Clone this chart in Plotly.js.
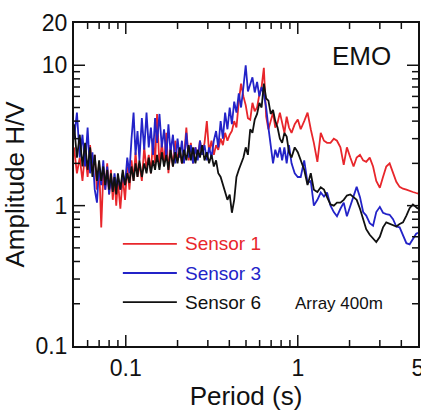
<!DOCTYPE html>
<html>
<head>
<meta charset="utf-8">
<script src="https://cdn.plot.ly/plotly-3.0.1.min.js"></script>
<style>html,body{margin:0;padding:0;background:#fff}#chart{width:421px;height:411px}</style>
</head>
<body>
<div id="chart"></div>
<script>
// Period (s)
const period = [
0.050,0.052,0.054,0.056,0.058,0.060,0.062,0.064,0.066,0.068,
0.070,0.072,0.074,0.076,0.078,0.080,0.082,0.084,0.086,0.088,
0.090,0.093,0.096,0.099,0.102,0.105,0.108,0.111,0.114,0.117,
0.120,0.124,0.128,0.132,0.136,0.140,0.144,0.148,0.152,0.157,
0.162,0.167,0.172,0.177,0.182,0.188,0.194,0.200,0.206,0.212,
0.218,0.225,0.232,0.239,0.246,0.254,0.262,0.270,0.278,0.287,
0.296,0.305,0.315,0.325,0.335,0.345,0.356,0.367,0.378,0.390,
0.402,0.414,0.427,0.440,0.454,0.468,0.483,0.498,0.513,0.529,
0.545,0.562,0.580,0.598,0.616,0.635,0.655,0.675,0.696,0.718,
0.740,0.763,0.787,0.811,0.836,0.862,0.889,0.92,0.96,1.0,
1.04,1.09,1.14,1.19,1.24,1.30,1.36,1.42,1.48,1.55,
1.62,1.69,1.77,1.85,1.93,2.02,2.11,2.2,2.3,2.4,
2.5,2.62,2.74,2.86,3.0,3.13,3.27,3.42,3.58,3.74,
3.91,4.09,4.28,4.47,4.67,4.88,5.0];

const sensor1 = [
2.6,1.7,2.2,1.5,2.4,1.6,2.7,1.8,2.3,1.3,
2.0,0.7,1.7,1.3,2.0,1.2,1.8,1.1,1.6,1.0,
1.5,0.95,1.6,1.1,1.9,1.3,2.1,1.5,2.4,1.6,
2.0,1.5,2.6,1.8,2.3,1.7,3.0,2.0,4.5,1.9,
2.8,2.0,3.3,1.7,2.6,1.9,2.9,2.1,2.5,2.0,
2.2,3.6,2.1,2.8,2.0,2.6,2.2,2.9,2.3,2.8,
4.0,2.4,2.9,2.3,2.7,2.5,3.0,2.7,3.3,2.9,
3.2,3.4,4.0,3.6,5.5,7.4,6.0,5.2,4.2,4.1,
5.4,4.7,5.0,6.2,7.0,9.6,4.3,3.5,4.0,4.6,
3.6,3.9,4.6,3.8,3.3,4.3,3.6,3.3,3.8,4.1,
3.5,4.0,4.6,3.5,2.8,2.05,3.3,2.9,2.8,2.8,
3.0,2.9,2.6,1.95,2.6,2.2,1.9,2.2,2.3,2.1,
2.05,2.2,1.9,1.5,1.34,1.6,1.9,2.0,1.7,1.48,
1.36,1.32,1.3,1.27,1.25,1.23,1.22];

const sensor3 = [
3.0,4.6,2.2,3.2,1.9,3.6,1.7,2.4,1.3,1.05,
1.9,1.4,2.1,1.3,1.9,1.2,1.6,1.3,1.7,1.35,
1.6,1.3,1.7,1.4,2.2,1.7,3.0,4.6,2.3,3.4,
2.1,4.2,2.5,4.6,2.6,3.6,2.3,4.2,2.8,4.5,
2.6,3.5,2.2,3.8,2.4,3.2,2.0,3.0,2.2,2.9,
2.0,3.3,2.2,2.7,2.0,2.6,2.1,2.9,2.3,2.7,
2.1,2.6,2.2,2.9,3.4,2.6,4.0,3.0,4.6,3.5,
5.0,3.8,5.5,4.6,6.3,5.0,7.0,10.0,6.5,7.2,
8.2,6.4,7.6,6.0,7.0,6.2,5.0,3.6,2.7,2.0,
2.5,2.2,2.6,2.1,2.6,2.0,2.7,2.0,1.7,1.6,
1.6,2.1,1.45,1.5,1.0,1.1,1.24,1.16,1.24,1.0,
0.9,0.84,0.95,1.05,0.84,1.0,1.2,1.36,1.15,0.9,
0.85,0.75,0.72,0.9,0.98,0.89,0.87,0.86,0.8,0.71,
0.7,0.62,0.54,0.53,0.58,0.63,0.64];

const sensor6 = [
3.8,2.2,3.2,1.9,2.8,1.8,2.6,1.6,2.3,1.5,
2.1,1.5,1.9,1.4,1.8,1.3,1.7,1.25,1.6,1.2,
1.7,1.3,1.8,1.4,1.7,1.45,1.9,1.5,2.0,1.6,
2.1,1.6,2.0,1.7,2.2,1.7,2.1,1.8,2.3,1.8,
2.4,1.9,2.3,1.8,2.5,1.9,2.4,2.0,2.6,2.0,
2.5,2.1,2.7,2.1,2.6,2.0,2.5,2.2,2.7,2.1,
2.4,2.0,2.3,1.9,2.1,1.7,1.6,1.4,1.25,1.1,
1.2,0.89,1.1,1.6,1.8,2.0,2.2,2.6,2.3,3.5,
3.3,4.1,4.5,5.4,5.0,7.4,5.8,5.6,4.5,4.8,
4.0,3.6,3.0,2.8,3.3,3.1,2.4,2.2,2.6,2.4,
2.1,1.8,1.4,1.7,1.3,1.25,1.35,1.3,1.15,1.02,
1.0,1.05,1.05,1.1,1.18,1.2,1.15,1.1,0.95,0.8,
0.68,0.62,0.58,0.55,0.6,0.7,0.76,0.74,0.72,0.71,
0.74,0.76,0.85,0.96,1.02,0.98,0.95];

const seriesNames = ["Sensor 1","Sensor 3","Sensor 6"];
const xTickVals = [0.1, 1, 4.999];
const xTickText = ["0.1", "1", "5"];
const xMajorMarks = [0.1, 1];
const xMinorVals = [0.06,0.07,0.08,0.09,0.2,0.3,0.4,0.5,0.6,0.7,0.8,0.9,2,3,4];
const yTickVals = [0.1001, 1, 10, 19.99];
const yTickText = ["0.1", "1", "10", "20"];
const yMajorMarks = [1, 10];
const yMinorVals = [0.2,0.3,0.4,0.5,0.6,0.7,0.8,0.9,2,3,4,5,6,7,8,9];

const colors = ["#e8262b", "#2323c8", "#111111"];
const FONT = "Liberation Sans, Arial, sans-serif";
const xRange = [Math.log10(0.05), Math.log10(5)];
const yRange = [Math.log10(0.1), Math.log10(20)];
const plotW = 344, plotH = 323;            // plot area size in px
const xDecPerPx = (xRange[1] - xRange[0]) / plotW;
const yDecPerPx = (yRange[1] - yRange[0]) / plotH;

const data = [sensor1, sensor3, sensor6].map((ys, i) => ({
  x: period, y: ys, type: "scatter", mode: "lines", name: seriesNames[i],
  line: {color: colors[i], width: 1.8}, showlegend: false, hoverinfo: "skip"
}));

// inside tick marks on all four sides, drawn on the log axes as a line trace
const tx = [], ty = [];
function xTicks(vals, len) {
  const yb = Math.pow(10, yRange[0] + len * yDecPerPx);
  const yt = Math.pow(10, yRange[1] - len * yDecPerPx);
  vals.forEach(v => {
    tx.push(v, v, null, v, v, null);
    ty.push(Math.pow(10, yRange[0]), yb, null, Math.pow(10, yRange[1]), yt, null);
  });
}
function yTicks(vals, len) {
  const xl = Math.pow(10, xRange[0] + len * xDecPerPx);
  const xr = Math.pow(10, xRange[1] - len * xDecPerPx);
  vals.forEach(v => {
    ty.push(v, v, null, v, v, null);
    tx.push(Math.pow(10, xRange[0]), xl, null, Math.pow(10, xRange[1]), xr, null);
  });
}
xTicks(xMajorMarks, 11); xTicks(xMinorVals, 6);
yTicks(yMajorMarks, 11); yTicks(yMinorVals, 6);
data.push({x: tx, y: ty, type: "scatter", mode: "lines", connectgaps: false,
  line: {color: "#111", width: 1.5}, showlegend: false, hoverinfo: "skip", cliponaxis: false});

// legend (drawn as shapes + text)
const legY = [0.316, 0.226, 0.136];
const shapes = legY.map((yy, i) => ({
  type: "line", xref: "paper", yref: "paper", x0: 0.142, x1: 0.299, y0: yy, y1: yy,
  line: {color: colors[i], width: 1.8}
}));
const annotations = legY.map((yy, i) => ({
  xref: "paper", yref: "paper", x: 0.316, y: yy, xanchor: "left", yanchor: "middle",
  text: seriesNames[i], showarrow: false, font: {family: FONT, size: 19, color: colors[i]}
}));
annotations.push({xref: "paper", yref: "paper", x: 0.837, y: 0.898, xanchor: "center", yanchor: "middle",
  text: "EMO", showarrow: false, font: {family: FONT, size: 26, color: "#111"}});
annotations.push({xref: "paper", yref: "paper", x: 0.637, y: 0.133, xanchor: "left", yanchor: "middle",
  text: "Array 400m", showarrow: false, font: {family: FONT, size: 17, color: "#111"}});

const axisBase = {
  type: "log", ticks: "", showline: true, mirror: true, linecolor: "#111", linewidth: 2,
  showgrid: false, zeroline: false, tickmode: "array", ticklabeloverflow: "allow",
  tickfont: {family: FONT, size: 23, color: "#111"}
};

const layout = {
  width: 421, height: 411,
  margin: {l: 74, r: 3, t: 23, b: 65},
  xaxis: Object.assign({}, axisBase, {
    range: xRange, tickvals: xTickVals, ticktext: xTickText,
    title: {text: "Period (s)", font: {family: FONT, size: 26, color: "#111"}, standoff: 4}
  }),
  yaxis: Object.assign({}, axisBase, {
    range: yRange, tickvals: yTickVals, ticktext: yTickText,
    title: {text: "Amplitude H/V", font: {family: FONT, size: 26, color: "#111"}, standoff: 4}
  }),
  shapes: shapes,
  annotations: annotations
};

Plotly.newPlot("chart", data, layout, {displayModeBar: false});
</script>
</body>
</html>
